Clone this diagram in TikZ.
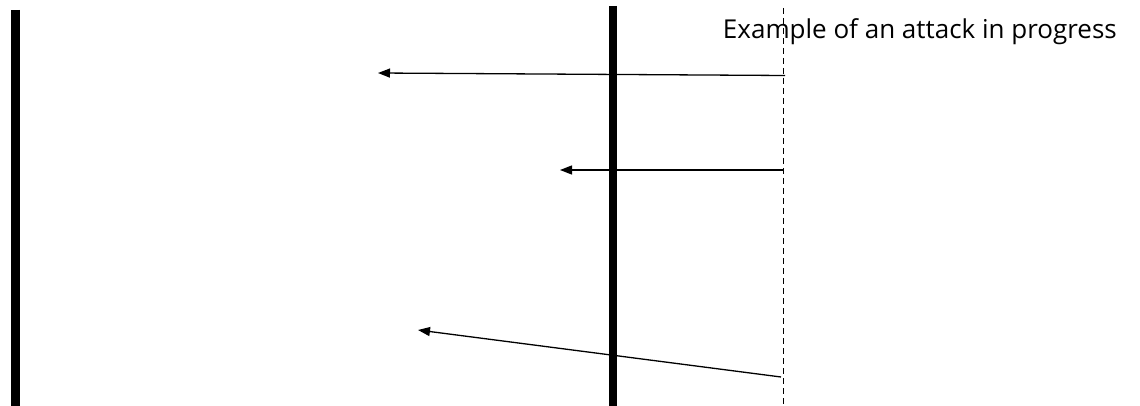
\documentclass[tikz,border=0pt]{standalone}
\usepackage{fontspec}
\setmainfont{Open Sans}
\usetikzlibrary{arrows.meta}
\begin{document}
\begin{tikzpicture}[x=1pt,y=-1pt,
  bar/.style={line width=8.5pt},
  attack/.style={line width=1.3pt,-{Triangle[length=12pt,width=9pt]}},
  timeline/.style={line width=1pt,dash pattern=on 6pt off 4pt}]
\useasboundingbox (0,0) rectangle (1140,406);
\coordinate (lt) at (15.5,10); \coordinate (lb) at (15.5,406);
\coordinate (mt) at (613,6); \coordinate (mb) at (613,406);
\coordinate (dt) at (783,8); \coordinate (db) at (783,406);
\draw[bar] (lt) -- (lb);
\draw[bar] (mt) -- (mb);
\draw[timeline] (dt) -- (db);
\coordinate (s1) at (785,75.5); \coordinate (e1) at (378,73);
\coordinate (s2) at (784,170); \coordinate (e2) at (560,170);
\coordinate (s3) at (781,377); \coordinate (e3) at (418,330);
\draw[attack] (s1) -- (e1);
\draw[attack] (s2) -- (e2);
\draw[attack] (s3) -- (e3);
\node[anchor=base east,inner sep=0pt,font=\fontsize{26}{30}\selectfont] (title) at (1117,39) {Example of an attack in progress};
\end{tikzpicture}
\end{document}
